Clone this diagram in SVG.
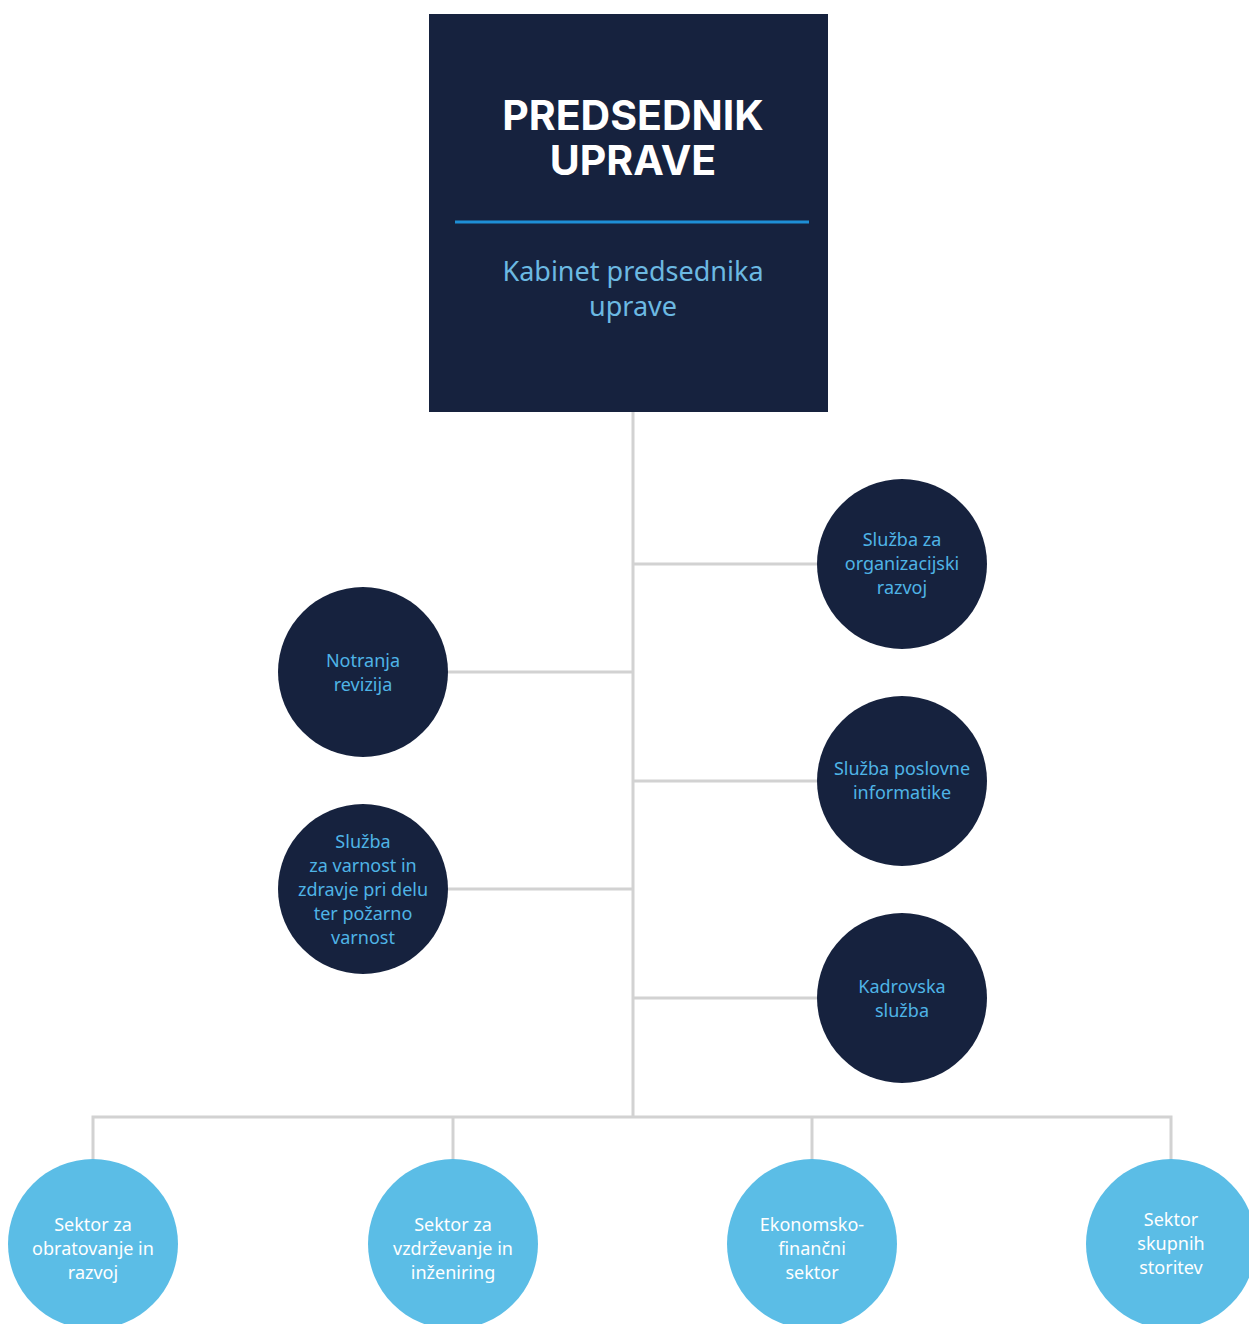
<svg xmlns="http://www.w3.org/2000/svg" width="1249" height="1324" viewBox="0 0 1249 1324">
<style>
.dark{fill:#16223e}
.light{fill:#5bbde6}
.conn{stroke:#d2d2d2;stroke-width:3;fill:none}
.t{font-family:"Noto Sans","Liberation Sans",sans-serif;font-size:18px;text-anchor:middle}
.td{fill:#4fb4e6}
.tl{fill:#ffffff}
.title{font-family:Inter,"Liberation Sans",sans-serif;font-weight:bold;font-size:41px;fill:#ffffff;text-anchor:middle}
.sub{font-family:"Noto Sans","Liberation Sans",sans-serif;font-size:27px;fill:#6cb9e2;text-anchor:middle}
</style>
<rect width="1249" height="1324" fill="#ffffff"/>
<g id="connectors">
<line class="conn" x1="633" y1="412" x2="633" y2="1117"/>
<line class="conn" x1="633" y1="564" x2="820" y2="564"/>
<line class="conn" x1="633" y1="781" x2="820" y2="781"/>
<line class="conn" x1="633" y1="998" x2="820" y2="998"/>
<line class="conn" x1="446" y1="672" x2="633" y2="672"/>
<line class="conn" x1="446" y1="889" x2="633" y2="889"/>
<polyline class="conn" points="93,1162 93,1117 1171,1117 1171,1162"/>
<line class="conn" x1="453" y1="1117" x2="453" y2="1162"/>
<line class="conn" x1="812" y1="1117" x2="812" y2="1162"/>
</g>
<g id="predsednik">
<rect class="dark" x="429" y="14" width="399" height="398"/>
<text class="title" x="633" y="130">PREDSEDNIK</text>
<text class="title" x="633" y="175">UPRAVE</text>
<line x1="455" y1="222" x2="809" y2="222" stroke="#1e8fd6" stroke-width="3"/>
<text class="sub" x="633" y="281">Kabinet predsednika</text>
<text class="sub" x="633" y="316">uprave</text>
</g>
<g id="organizacijski">
<circle class="dark" cx="902" cy="564" r="85"/>
<text class="t td" x="902" y="546">Služba za</text>
<text class="t td" x="902" y="570">organizacijski</text>
<text class="t td" x="902" y="594">razvoj</text>
</g>
<g id="informatika">
<circle class="dark" cx="902" cy="781" r="85"/>
<text class="t td" x="902" y="775">Služba poslovne</text>
<text class="t td" x="902" y="799">informatike</text>
</g>
<g id="kadrovska">
<circle class="dark" cx="902" cy="998" r="85"/>
<text class="t td" x="902" y="993">Kadrovska</text>
<text class="t td" x="902" y="1017">služba</text>
</g>
<g id="revizija">
<circle class="dark" cx="363" cy="672" r="85"/>
<text class="t td" x="363" y="667">Notranja</text>
<text class="t td" x="363" y="691">revizija</text>
</g>
<g id="varnost">
<circle class="dark" cx="363" cy="889" r="85"/>
<text class="t td" x="363" y="848">Služba</text>
<text class="t td" x="363" y="872">za varnost in</text>
<text class="t td" x="363" y="896">zdravje pri delu</text>
<text class="t td" x="363" y="920">ter požarno</text>
<text class="t td" x="363" y="944">varnost</text>
</g>
<g id="obratovanje">
<circle class="light" cx="93" cy="1244" r="85"/>
<text class="t tl" x="93" y="1231">Sektor za</text>
<text class="t tl" x="93" y="1255">obratovanje in</text>
<text class="t tl" x="93" y="1279">razvoj</text>
</g>
<g id="vzdrzevanje">
<circle class="light" cx="453" cy="1244" r="85"/>
<text class="t tl" x="453" y="1231">Sektor za</text>
<text class="t tl" x="453" y="1255">vzdrževanje in</text>
<text class="t tl" x="453" y="1279">inženiring</text>
</g>
<g id="ekonomsko">
<circle class="light" cx="812" cy="1244" r="85"/>
<text class="t tl" x="812" y="1231">Ekonomsko-</text>
<text class="t tl" x="812" y="1255">finančni</text>
<text class="t tl" x="812" y="1279">sektor</text>
</g>
<g id="skupne">
<circle class="light" cx="1171" cy="1244" r="85"/>
<text class="t tl" x="1171" y="1226">Sektor</text>
<text class="t tl" x="1171" y="1250">skupnih</text>
<text class="t tl" x="1171" y="1274">storitev</text>
</g>
</svg>
